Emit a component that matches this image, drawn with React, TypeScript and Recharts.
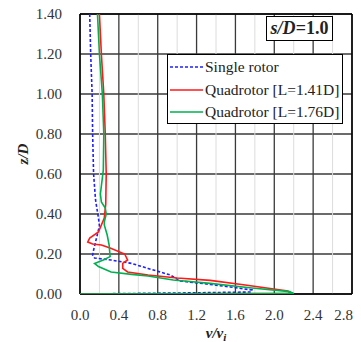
import React from "react";
import {
  ScatterChart,
  Scatter,
  XAxis,
  YAxis,
  CartesianGrid,
  ReferenceLine,
  Label,
} from "recharts";

const xTicks = [0, 0.4, 0.8, 1.2, 1.6, 2.0, 2.4, 2.8];
const xMinor = [0.2, 0.6, 1.0, 1.4, 1.8, 2.2, 2.6];
const yTicks = [0, 0.2, 0.4, 0.6, 0.8, 1.0, 1.2, 1.4];

const seriesNames = ["Single rotor", "Quadrotor [L=1.41D]", "Quadrotor [L=1.76D]"];

// [v/vi, z/D]
const singleRotor: [number, number][] = [
  [0.10, 1.40], [0.11, 1.20], [0.125, 1.00], [0.13, 0.80], [0.14, 0.60],
  [0.16, 0.47], [0.19, 0.38], [0.20, 0.34], [0.17, 0.28], [0.14, 0.22],
  [0.13, 0.195], [0.15, 0.18], [0.32, 0.17], [0.53, 0.153], [0.70, 0.128],
  [0.93, 0.095], [1.03, 0.065], [1.34, 0.048], [1.55, 0.035], [1.77, 0.02],
  [1.76, 0.01], [1.2, 0.006], [0, 0],
];

const quad141: [number, number][] = [
  [0.20, 1.40], [0.22, 1.20], [0.245, 1.00], [0.26, 0.80], [0.27, 0.60],
  [0.265, 0.45], [0.25, 0.38], [0.22, 0.345], [0.19, 0.31], [0.10, 0.28],
  [0.08, 0.26], [0.13, 0.25], [0.22, 0.245], [0.31, 0.23], [0.46, 0.20],
  [0.49, 0.17], [0.44, 0.153], [0.44, 0.128], [0.49, 0.11], [0.70, 0.095],
  [1.0, 0.08], [1.34, 0.068], [1.7, 0.045], [2.14, 0.015], [2.17, 0.004],
  [0, 0],
];

const quad176: [number, number][] = [
  [0.18, 1.40], [0.20, 1.20], [0.23, 1.00], [0.245, 0.80], [0.24, 0.62],
  [0.22, 0.54], [0.21, 0.50], [0.22, 0.46], [0.26, 0.43], [0.27, 0.40],
  [0.25, 0.36], [0.25, 0.345], [0.28, 0.295], [0.30, 0.245], [0.31, 0.187],
  [0.24, 0.17], [0.15, 0.153], [0.19, 0.137], [0.32, 0.11], [0.53, 0.098],
  [0.70, 0.09], [0.96, 0.07], [1.34, 0.053], [1.77, 0.03], [2.16, 0.012],
  [2.2, 0.002], [0, 0],
];

const toPts = (arr: [number, number][]) => arr.map(([v, z]) => ({ v, z }));

const colors = ["#1f1fff", "#ff1a1a", "#00b050"];
const dashes = ["3 2", undefined, undefined];

const FONT = "'Liberation Serif', 'Times New Roman', serif";

const NoShape = () => <g />;

const XTick = (props: any) => {
  const { x, y, payload, index } = props;
  const last = index === xTicks.length - 1;
  return (
    <text
      x={last ? x + 1 : x}
      y={y}
      dy="0.71em"
      textAnchor={last ? "end" : "middle"}
      fontFamily={FONT}
      fontSize={15}
      fill="#333"
    >
      {Number(payload.value).toFixed(1)}
    </text>
  );
};

const LegendBox = () => (
  <div
    style={{
      position: "absolute",
      left: 159,
      top: 54,
      width: 176,
      height: 70,
      boxSizing: "border-box",
      border: "1.5px solid #000",
      background: "#fff",
      fontFamily: FONT,
      fontSize: 15.5,
      color: "#222",
      paddingTop: 1,
    }}
  >
    {seriesNames.map((name, i) => (
      <div key={name} style={{ display: "flex", alignItems: "center", height: 22.5 }}>
        <svg width={35} height={10} style={{ marginLeft: 2 }}>
          <line
            x1={0}
            y1={5}
            x2={33}
            y2={5}
            stroke={colors[i]}
            strokeWidth={1.6}
            strokeDasharray={dashes[i]}
          />
        </svg>
        <span style={{ whiteSpace: "nowrap" }}>{name}</span>
      </div>
    ))}
  </div>
);

const XTitle = (props: any) => {
  const { viewBox } = props;
  const cx = viewBox.x + viewBox.width / 2;
  return (
    <text
      x={cx}
      y={338}
      textAnchor="middle"
      fontFamily={FONT}
      fontSize={15}
      fontWeight="bold"
      fontStyle="italic"
      fill="#222"
    >
      v/v
      <tspan fontSize={11} dy={3}>
        i
      </tspan>
    </text>
  );
};

const YTitle = (props: any) => {
  const { viewBox } = props;
  const cy = viewBox.y + viewBox.height / 2;
  return (
    <text
      x={20}
      y={cy}
      transform={`rotate(-90, 20, ${cy})`}
      textAnchor="middle"
      fontFamily={FONT}
      fontSize={15}
      fontWeight="bold"
      fontStyle="italic"
      fill="#222"
    >
      z/D
    </text>
  );
};

export default function App() {
  const series = [singleRotor, quad141, quad176];
  return (
    <div style={{ position: "relative", width: 345, height: 342, marginTop: -8 }}>
      <ScatterChart
        width={345}
        height={342}
        margin={{ top: 14, right: 1, bottom: 0, left: 0 }}
      >
        {xMinor.map((x) => (
          <ReferenceLine key={"m" + x} x={x} stroke="#dcdcdc" strokeWidth={1} />
        ))}
        <CartesianGrid stroke="#3a3a3a" strokeWidth={1.3} />
        <XAxis
          type="number"
          dataKey="v"
          domain={[0, 2.8]}
          ticks={xTicks}
          tick={<XTick />}
          tickLine={false}
          tickMargin={9}
          axisLine={{ stroke: "#000", strokeWidth: 1.5 }}
          height={48}
          allowDataOverflow
          interval={0}
        >
          <Label content={<XTitle />} />
        </XAxis>
        <YAxis
          type="number"
          dataKey="z"
          domain={[0, 1.4]}
          ticks={yTicks}
          tickFormatter={(t: number) => t.toFixed(2)}
          tick={{ fontFamily: FONT, fontSize: 15, fill: "#333" }}
          tickLine={false}
          tickMargin={12}
          axisLine={{ stroke: "#000", strokeWidth: 1.5 }}
          width={72}
          allowDataOverflow
          interval={0}
        >
          <Label content={<YTitle />} />
        </YAxis>
        <ReferenceLine x={2.8} stroke="#000" strokeWidth={1.5} />
        <ReferenceLine y={1.4} stroke="#000" strokeWidth={1.5} />
        {series.map((s, i) => (
          <Scatter
            key={seriesNames[i]}
            name={seriesNames[i]}
            data={toPts(s)}
            fill={colors[i]}
            line={{ stroke: colors[i], strokeWidth: 1.6, strokeDasharray: dashes[i] }}
            lineJointType="linear"
            shape={<NoShape />}
            isAnimationActive={false}
          />
        ))}
      </ScatterChart>
      <LegendBox />
      <div
        style={{
          position: "absolute",
          left: 258,
          top: 16,
          width: 67,
          height: 25,
          boxSizing: "border-box",
          border: "1.5px solid #000",
          background: "#fff",
          fontFamily: FONT,
          fontSize: 18,
          fontWeight: "bold",
          color: "#222",
          textAlign: "center",
          lineHeight: "22px",
        }}
      >
        <i>s/D</i>=1.0
      </div>
    </div>
  );
}
